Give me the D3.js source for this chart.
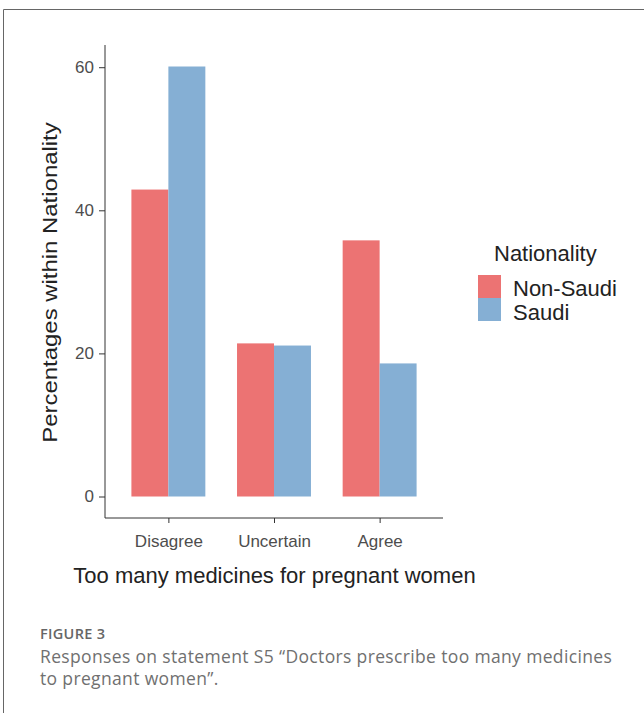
<!DOCTYPE html>
<html>
<head>
<meta charset="utf-8">
<script src="https://cdn.jsdelivr.net/npm/d3@7"></script>
<style>
  html, body { margin: 0; padding: 0; background: #fff; }
  svg { display: block; }
</style>
</head>
<body>
<div id="chart"></div>
<script>
// Responses on statement S5, percentages within nationality
const categories = ['Disagree', 'Uncertain', 'Agree'];
const groups = ['Non-Saudi', 'Saudi'];
const nonSaudi = [42.9, 21.4, 35.8];
const saudi = [60.1, 21.1, 18.6];
const yTicks = [0, 20, 40, 60];
const colors = ['#EC7373', '#85AFD4'];

(function () {
  const W = 644, H = 713;
  const svg = d3.select('#chart').append('svg').attr('width', W).attr('height', H);
  const font = "'Liberation Sans', Arial, sans-serif";

  // frame (top + left rule of the figure box)
  svg.append('path').attr('d', `M3.5,${H} L3.5,9.5 L${W},9.5`)
    .attr('fill', 'none').attr('stroke', '#666').attr('stroke-width', 1);

  // plot panel bounds
  const left = 105, right = 443, top = 45, bottom = 518;

  const rows = categories.map((c, i) => ({ cat: c, vals: [nonSaudi[i], saudi[i]] }));
  const maxV = d3.max(rows, r => d3.max(r.vals));
  const pad = maxV * 0.05;
  const y = d3.scaleLinear().domain([-pad, maxV + pad]).range([bottom, top]);

  // ggplot-like discrete x: 0.6 expansion each side, bars 0.7 wide
  const x = d3.scaleLinear().domain([0.4, categories.length + 0.6]).range([left, right]);
  const half = 0.35;

  const g = svg.append('g');
  rows.forEach((r, i) => {
    r.vals.forEach((v, j) => {
      const x0 = x(i + 1 - half + j * half), x1 = x(i + 1 + j * half);
      g.append('rect')
        .attr('x', x0).attr('width', x1 - x0)
        .attr('y', y(v)).attr('height', y(0) - y(v))
        .attr('fill', colors[j]);
    });
  });

  // y axis
  const ya = svg.append('g').attr('transform', `translate(${left},0)`)
    .call(d3.axisLeft(y).tickValues(yTicks).tickSize(6).tickPadding(5));
  ya.select('.domain').attr('d', `M0,${top}V${bottom}`).attr('stroke', '#333');
  ya.selectAll('.tick line').attr('stroke', '#333');
  ya.selectAll('text').style('font-family', font).style('font-size', '17px').attr('fill', '#4D4D4D');

  // x axis
  const xa = svg.append('g').attr('transform', `translate(0,${bottom})`)
    .call(d3.axisBottom(x).tickValues(categories.map((c, i) => i + 1))
      .tickFormat(d => categories[d - 1]).tickSize(5).tickPadding(12));
  xa.select('.domain').attr('d', `M${left},0H${right}`).attr('stroke', '#333');
  xa.selectAll('.tick line').attr('stroke', '#333');
  xa.selectAll('text').style('font-family', font).style('font-size', '17px').attr('fill', '#4D4D4D');

  // axis titles
  svg.append('text').attr('x', (left + right) / 2 + 0.5).attr('y', 583)
    .attr('text-anchor', 'middle').style('font-family', font).style('font-size', '22px')
    .attr('fill', '#222').text('Too many medicines for pregnant women');
  const ym = (top + bottom) / 2 + 1;
  svg.append('text').attr('transform', `translate(57,${ym}) rotate(-90) scale(1.14,1)`)
    .attr('text-anchor', 'middle').style('font-family', font).style('font-size', '21px')
    .attr('fill', '#222').text('Percentages within Nationality');

  // legend
  const lg = svg.append('g').attr('transform', 'translate(478,0)');
  lg.append('text').attr('x', 16).attr('y', 261).style('font-family', font).style('font-size', '22px')
    .attr('fill', '#222').text('Nationality');
  groups.forEach((name, i) => {
    lg.append('rect').attr('x', 0).attr('y', 275 + i * 23).attr('width', 23).attr('height', 23)
      .attr('fill', colors[i]);
    lg.append('text').attr('x', 35).attr('y', 296 + i * 24).style('font-family', font).style('font-size', '22px')
      .attr('fill', '#222').text(name);
  });

  // caption
  const cap = "'Open Sans', 'Noto Sans', sans-serif";
  svg.append('text').attr('x', 40).attr('y', 639).style('font-family', cap).style('font-size', '14.5px')
    .style('font-weight', 600).style('letter-spacing', '0.3px').attr('fill', '#666').text('FIGURE 3');
  svg.append('text').attr('x', 40).attr('y', 663).style('font-family', cap).style('font-size', '17.5px')
    .style('letter-spacing', '0.35px').attr('fill', '#707070')
    .text('Responses on statement S5 \u201cDoctors prescribe too many medicines');
  svg.append('text').attr('x', 40).attr('y', 685).style('font-family', cap).style('font-size', '17.5px')
    .style('letter-spacing', '0.35px').attr('fill', '#707070')
    .text('to pregnant women\u201d.');
})();
</script>
</body>
</html>
